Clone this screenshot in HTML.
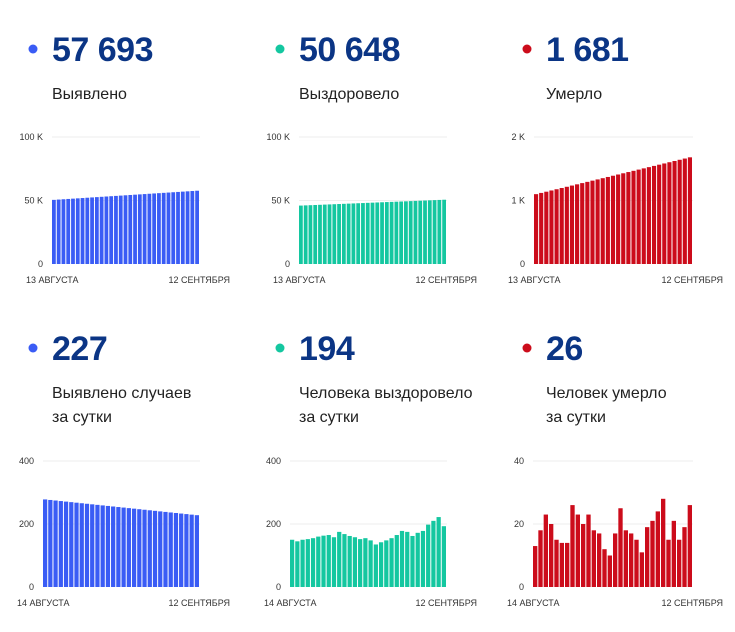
<!DOCTYPE html>
<html><head><meta charset="utf-8"><style>
body{margin:0;background:#fff;width:735px;height:627px;overflow:hidden;font-family:"Liberation Sans",sans-serif;}
</style></head><body>
<svg id="s" width="735" height="627" xmlns="http://www.w3.org/2000/svg" font-family="Liberation Sans, sans-serif"></svg>
<script>
var s=document.getElementById('s'),h='';
function T(x,y,t,sz,c,w,a,ex){h+='<text x="'+x+'" y="'+y+'" font-size="'+sz+'" fill="'+c+'" font-weight="'+(w||'normal')+'" text-anchor="'+(a||'start')+'" '+(ex||'')+'>'+t+'</text>';}
var blue='#3a5cf5',teal='#14c7a0',red='#cc0c1b',navy='#0b3585';
function head(x,y,col,num,l1,l2){h+='<circle cx="'+x+'" cy="'+(y-12)+'" r="4.5" fill="'+col+'"/>';T(x+19,y,num,34,navy,'bold','start','letter-spacing="-0.5"');T(x+19,y+38,l1,16,'#222');if(l2)T(x+19,y+62,l2,16,'#222');}
head(33,61,blue,'57 693','Выявлено');head(280,61,teal,'50 648','Выздоровело');head(527,61,red,'1 681','Умерло');
head(33,360,blue,'227','Выявлено случаев','за сутки');head(280,360,teal,'194','Человека выздоровело','за сутки');head(527,360,red,'26','Человек умерло','за сутки');
function chart(x0,x1,yt,yb,max,labs,vals,col,d1,d2){
 var ym=(yt+yb)/2;
 h+='<line x1="'+x0+'" x2="'+x1+'" y1="'+yt+'" y2="'+yt+'" stroke="#eee"/>';
 h+='<line x1="'+x0+'" x2="'+x1+'" y1="'+ym+'" y2="'+ym+'" stroke="#eee"/>';
 T(x0-9,yt+3,labs[0],9,'#333','normal','end');T(x0-9,ym+3,labs[1],9,'#333','normal','end');T(x0-9,yb+3,'0',9,'#333','normal','end');
 var n=vals.length,w=(x1-x0)/n;
 for(var i=0;i<n;i++){var v=vals[i],bh=v/max*(yb-yt);h+='<rect x="'+(x0+i*w)+'" y="'+(yb-bh)+'" width="'+(w-1)+'" height="'+bh+'" fill="'+col+'"/>';}
 T(x0-26,yb+19,d1,9,'#333');T(x1+30,yb+19,d2,9,'#333','normal','end');
}
function lin(a,b,n){var r=[];for(var i=0;i<n;i++)r.push(a+(b-a)*i/(n-1));return r;}
chart(52,200,137,264,100,['100 K','50 K'],lin(50.5,57.7,31),blue,'13 АВГУСТА','12 СЕНТЯБРЯ');
chart(299,447,137,264,100,['100 K','50 K'],lin(46,50.6,31),teal,'13 АВГУСТА','12 СЕНТЯБРЯ');
chart(534,693,137,264,2,['2 K','1 K'],lin(1.1,1.68,31),red,'13 АВГУСТА','12 СЕНТЯБРЯ');
chart(43,200,461,587,400,['400','200'],lin(278,228,30),blue,'14 АВГУСТА','12 СЕНТЯБРЯ');
chart(290,447,461,587,400,['400','200'],[150,145,150,152,155,160,163,165,158,175,168,162,158,152,155,148,135,142,148,155,165,178,175,162,172,178,198,210,222,193],teal,'14 АВГУСТА','12 СЕНТЯБРЯ');
chart(533,693,461,587,40,['40','20'],[13,18,23,20,15,14,14,26,23,20,23,18,17,12,10,17,25,18,17,15,11,19,21,24,28,15,21,15,19,26],red,'14 АВГУСТА','12 СЕНТЯБРЯ');
s.innerHTML=h;
</script>
</body></html>
